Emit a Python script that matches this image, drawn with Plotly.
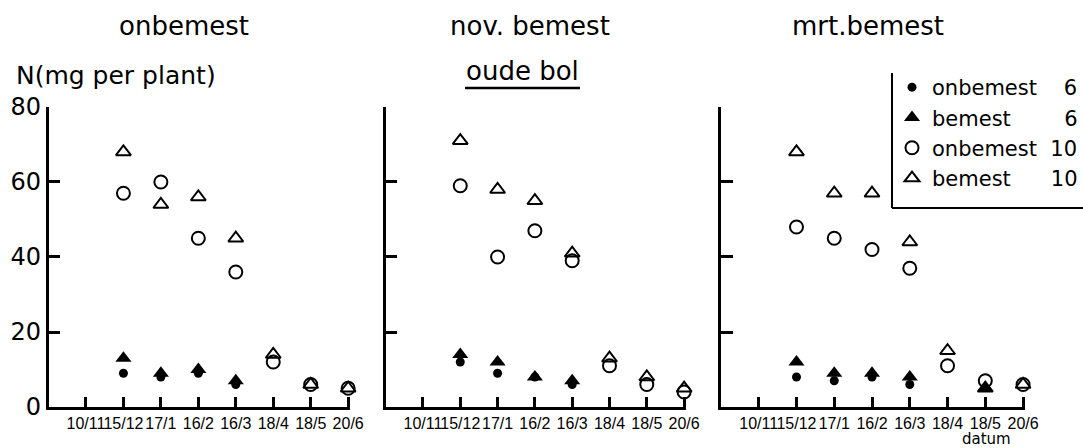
import plotly.graph_objects as go

# Sampling dates (x categories)
dates = ["10/11", "15/12", "17/1", "16/2", "16/3", "18/4", "18/5", "20/6"]
y_ticks = [0, 20, 40, 60, 80]

panel_titles = ["onbemest", "nov. bemest", "mrt.bemest"]

# N content (mg per plant) per treatment, one list per series and panel
onbemest6_p1 = [None, 9, 8, 9, 6, None, None, None]
bemest6_p1 = [None, 13, 9, 10, 7, None, None, None]
onbemest10_p1 = [None, 57, 60, 45, 36, 12, 6, 5]
bemest10_p1 = [None, 68, 54, 56, 45, 14, 6, 5]

onbemest6_p2 = [None, 12, 9, 8, 6, None, None, None]
bemest6_p2 = [None, 14, 12, 8, 7, None, None, None]
onbemest10_p2 = [None, 59, 40, 47, 39, 11, 6, 4]
bemest10_p2 = [None, 71, 58, 55, 41, 13, 8, 5]

onbemest6_p3 = [None, 8, 7, 8, 6, None, None, None]
bemest6_p3 = [None, 12, 9, 9, 8, None, 5, None]
onbemest10_p3 = [None, 48, 45, 42, 37, 11, 7, 6]
bemest10_p3 = [None, 68, 57, 57, 44, 15, 5, 6]

NB = "\u00a0"
series_names = ["onbemest" + NB * 4 + "6", "bemest" + NB * 8 + "6",
                "onbemest" + NB * 2 + "10", "bemest" + NB * 6 + "10"]

panels = [
    [onbemest6_p1, bemest6_p1, onbemest10_p1, bemest10_p1],
    [onbemest6_p2, bemest6_p2, onbemest10_p2, bemest10_p2],
    [onbemest6_p3, bemest6_p3, onbemest10_p3, bemest10_p3],
]

FONT = "DejaVu Sans, sans-serif"
TICKFONT = "Liberation Sans, Arial, sans-serif"
INK = "black"

marker_styles = [
    dict(symbol="circle", size=9, color=INK),
    dict(symbol="triangle-up", size=14, color=INK),
    dict(symbol="circle-open", size=13, color=INK, line=dict(width=2, color=INK)),
    dict(symbol="triangle-up-open", size=13, color=INK, line=dict(width=2, color=INK)),
]

fig = go.Figure()

for p, series in enumerate(panels):
    xa = "x" if p == 0 else f"x{p + 1}"
    ya = "y" if p == 0 else f"y{p + 1}"
    for s, vals in enumerate(series):
        fig.add_trace(go.Scatter(
            x=dates, y=vals, mode="markers",
            marker=marker_styles[s],
            name=series_names[s], legendgroup=f"s{s}",
            showlegend=(p == 0),
            cliponaxis=False,
            xaxis=xa, yaxis=ya,
        ))

x_domains = [[0.0448, 0.3232], [0.3561, 0.6334], [0.6657, 0.9464]]
y_domain = [0.0915, 0.7612]

layout = dict(
    width=1083, height=448,
    margin=dict(l=0, r=0, t=0, b=0, autoexpand=False),
    paper_bgcolor="white", plot_bgcolor="white",
    font=dict(family=FONT, color=INK),
    showlegend=True,
    legend=dict(
        x=1.0, y=1 - 67 / 448, xanchor="right", yanchor="top",
        bgcolor="rgba(0,0,0,0)", borderwidth=0,
        font=dict(size=21, family=FONT, color=INK),
        itemclick=False, tracegroupgap=0,
    ),
)

for p in range(3):
    xkey = "xaxis" if p == 0 else f"xaxis{p + 1}"
    ykey = "yaxis" if p == 0 else f"yaxis{p + 1}"
    yref = "y" if p == 0 else f"y{p + 1}"
    xref = "x" if p == 0 else f"x{p + 1}"
    layout[xkey] = dict(
        domain=x_domains[p], anchor=yref,
        type="category", categoryorder="array", categoryarray=dates,
        range=[-1, 7.05],
        showline=True, linecolor=INK, linewidth=2.5,
        ticks="inside", ticklen=10, tickwidth=2.5, tickcolor=INK,
        showgrid=False, zeroline=False,
        tickangle=0,
        tickfont=dict(size=16, family=TICKFONT, color=INK),
        fixedrange=True,
    )
    layout[ykey] = dict(
        domain=y_domain, anchor=xref,
        range=[0, 80],
        tickvals=y_ticks,
        showline=True, linecolor=INK, linewidth=2.5,
        ticks="inside", ticklen=12, tickwidth=2.5, tickcolor=INK,
        showgrid=False, zeroline=False,
        showticklabels=(p == 0),
        tickfont=dict(size=24, family=FONT, color=INK),
        fixedrange=True,
    )

fig.update_layout(**layout)

# Panel headings
title_x = [184 / 1083, 530 / 1083, 868 / 1083]
for p, t in enumerate(panel_titles):
    fig.add_annotation(text=t, x=title_x[p], y=1 - 26 / 448, xref="paper", yref="paper",
                       showarrow=False, xanchor="center", yanchor="middle",
                       font=dict(size=26, family=FONT, color=INK))

# Axis title, subtitle and x label
fig.add_annotation(text="N(mg per plant)", x=14 / 1083, y=1 - 75 / 448, xref="paper", yref="paper",
                   showarrow=False, xanchor="left", yanchor="middle",
                   font=dict(size=25, family=FONT, color=INK))
fig.add_annotation(text="oude bol", x=522 / 1083, y=1 - 71 / 448, xref="paper", yref="paper",
                   showarrow=False, xanchor="center", yanchor="middle",
                   font=dict(size=26, family=FONT, color=INK))
fig.add_shape(type="line", x0=465 / 1083, x1=580 / 1083, y0=1 - 88 / 448, y1=1 - 88 / 448,
              xref="paper", yref="paper", line=dict(color=INK, width=2.5))
fig.add_annotation(text="datum", x=986 / 1083, y=1 - 439 / 448, xref="paper", yref="paper",
                   showarrow=False, xanchor="center", yanchor="middle",
                   font=dict(size=15, family=FONT, color=INK))

# Legend frame: left and bottom rules
fig.add_shape(type="line", x0=892 / 1083, x1=892 / 1083, y0=1 - 73 / 448, y1=1 - 208 / 448,
              xref="paper", yref="paper", line=dict(color=INK, width=2))
fig.add_shape(type="line", x0=892 / 1083, x1=1.0, y0=1 - 208 / 448, y1=1 - 208 / 448,
              xref="paper", yref="paper", line=dict(color=INK, width=2))

fig.write_html("out.html", config={"displayModeBar": False})
